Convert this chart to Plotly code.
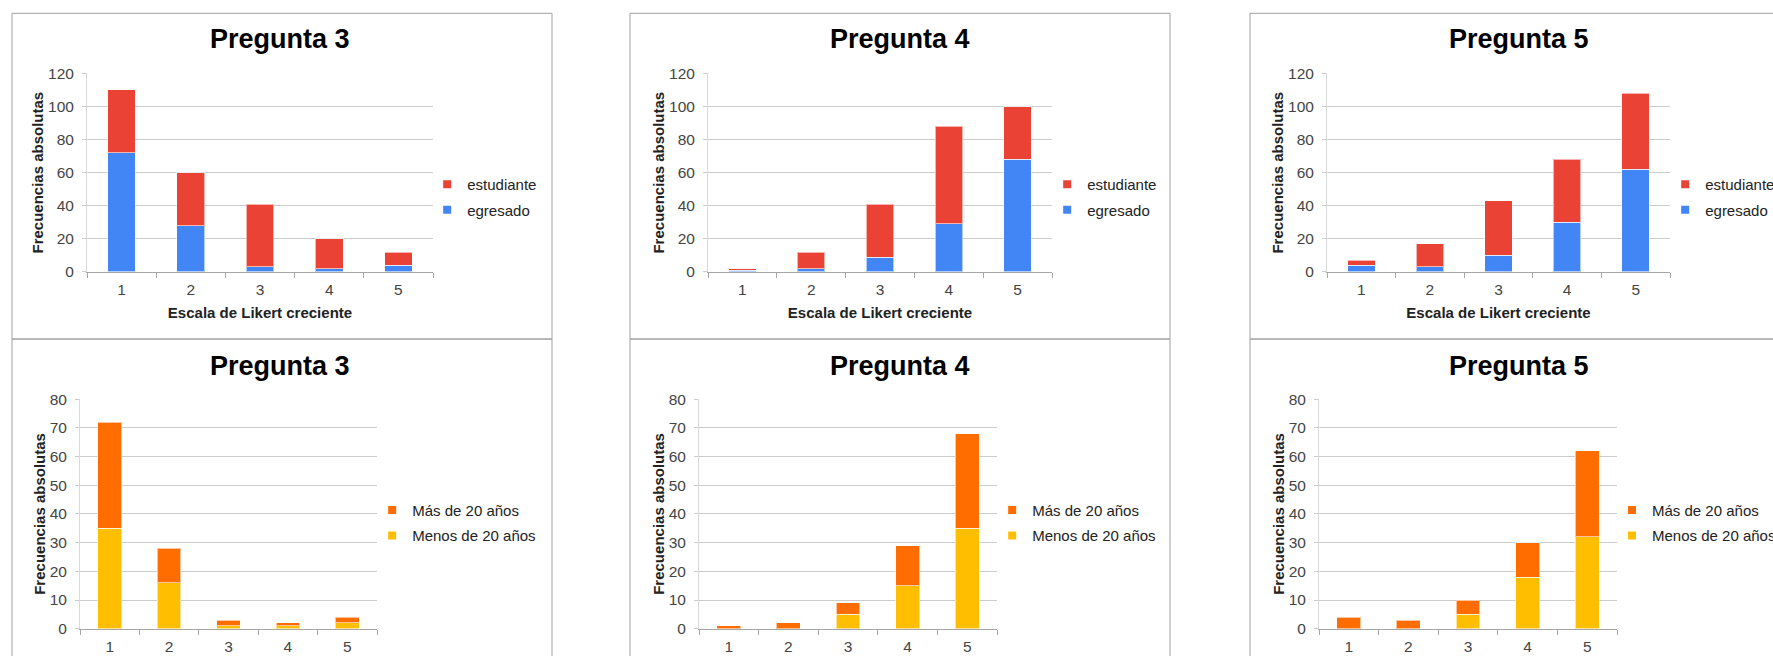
import plotly.graph_objects as go

# Figure size in page pixels (slightly larger than the window so that the
# photographed picture is completely covered)
W, H = 1781, 680

likert = ["1", "2", "3", "4", "5"]

# Top row: egresado / estudiante
p3_egresado = [72, 28, 3, 2, 4]
p3_estudiante = [38, 32, 38, 18, 8]
p4_egresado = [1, 2, 9, 29, 68]
p4_estudiante = [1, 10, 32, 59, 32]
p5_egresado = [4, 3, 10, 30, 62]
p5_estudiante = [3, 14, 33, 38, 46]

# Bottom row: egresados by age
p3_menos = [35, 16, 1, 1, 2]
p3_mas = [37, 12, 2, 1, 2]
p4_menos = [0, 0, 5, 15, 35]
p4_mas = [1, 2, 4, 14, 33]
p5_menos = [0, 0, 5, 18, 32]
p5_mas = [4, 3, 5, 12, 30]

titles = ["Pregunta 3", "Pregunta 4", "Pregunta 5"]
top_names = ["egresado", "estudiante"]
bottom_names = ["Menos de 20 años", "Más de 20 años"]

RED, BLUE = "#EA4335", "#4285F4"
ORANGE, YELLOW = "#FF6D01", "#FFBF00"
FONT = "Liberation Sans, Arial, sans-serif"

# calibration between picture pixels and page pixels
SX, SY, OY = 0.9955, 0.9728, 7.7


def px(x):
    return (x / SX) / W


def py(y):
    return 1 - ((y - OY) / SY) / H


panels = [
    dict(title=titles[0], x=(87, 433), y=(72, 270), ymax=120, dtick=20,
         data=(p3_egresado, p3_estudiante), names=top_names, colors=(BLUE, RED),
         tx=280, ty=38, lx=467, ly=183, xtitle=True,
         box=(12, 12, 552, 337), sides="trbl"),
    dict(title=titles[1], x=(708, 1052), y=(72, 270), ymax=120, dtick=20,
         data=(p4_egresado, p4_estudiante), names=top_names, colors=(BLUE, RED),
         tx=900, ty=38, lx=1087, ly=183, xtitle=True,
         box=(630, 12, 1170, 337), sides="trbl"),
    dict(title=titles[2], x=(1327, 1670), y=(72, 270), ymax=120, dtick=20,
         data=(p5_egresado, p5_estudiante), names=top_names, colors=(BLUE, RED),
         tx=1519, ty=38, lx=1705, ly=183, xtitle=True,
         box=(1250, 12, 1800, 337), sides="tbl"),
    dict(title=titles[0], x=(80, 377), y=(397, 626), ymax=80, dtick=10,
         data=(p3_menos, p3_mas), names=bottom_names, colors=(YELLOW, ORANGE),
         tx=280, ty=364, lx=412, ly=508, xtitle=False,
         box=(12, 337, 552, 700), sides="trl"),
    dict(title=titles[1], x=(699, 997), y=(397, 626), ymax=80, dtick=10,
         data=(p4_menos, p4_mas), names=bottom_names, colors=(YELLOW, ORANGE),
         tx=900, ty=364, lx=1032, ly=508, xtitle=False,
         box=(630, 337, 1170, 700), sides="trl"),
    dict(title=titles[2], x=(1319, 1617), y=(397, 626), ymax=80, dtick=10,
         data=(p5_menos, p5_mas), names=bottom_names, colors=(YELLOW, ORANGE),
         tx=1519, ty=364, lx=1652, ly=508, xtitle=False,
         box=(1250, 337, 1800, 700), sides="tl"),
]

fig = go.Figure()
layout = dict(
    width=W, height=H, autosize=False,
    margin=dict(l=0, r=0, t=0, b=0),
    paper_bgcolor="white", plot_bgcolor="white",
    barmode="stack", bargap=0.6,
    font=dict(family=FONT, size=15, color="#444444"),
    showlegend=True,
)
annotations = []
shapes = []


def clamp(v):
    return min(max(v, 0.0), 1.0)


for i, p in enumerate(panels, start=1):
    sfx = "" if i == 1 else str(i)
    xa, ya = "x" + sfx, "y" + sfx
    leg = "legend" + sfx
    bottom, top = p["data"]
    cb, ct = p["colors"]
    nb, nt = p["names"]
    line = dict(color="rgba(255,255,255,0.6)", width=1)
    fig.add_trace(go.Bar(x=likert, y=bottom, name=nb, marker=dict(color=cb, line=line),
                         xaxis=xa, yaxis=ya, showlegend=False))
    fig.add_trace(go.Bar(x=likert, y=top, name=nt, marker=dict(color=ct, line=line),
                         xaxis=xa, yaxis=ya, showlegend=False))
    # legend entries (small square markers)
    for nm, col, grp in ((nt, ct, "a"), (nb, cb, "b")):
        fig.add_trace(go.Scatter(x=[None], y=[None], mode="markers", name=nm,
                                 marker=dict(symbol="square", size=8, color=col),
                                 xaxis=xa, yaxis=ya, legend=leg, legendgroup=grp + sfx,
                                 showlegend=True))

    layout["xaxis" + sfx] = dict(
        domain=[px(p["x"][0]), px(p["x"][1])], anchor=ya,
        type="category", showgrid=False, showline=True, linecolor="#A6A6A6", linewidth=1,
        ticks="outside", tickson="boundaries", ticklen=5, tickcolor="#A6A6A6",
        ticklabelstandoff=4,
        tickfont=dict(size=15.5, color="#444444"), fixedrange=True,
        title=dict(text="Escala de Likert creciente" if p["xtitle"] else "",
                   font=dict(size=15, color="#222222", weight="bold"), standoff=10),
    )
    layout["yaxis" + sfx] = dict(
        domain=[py(p["y"][1]), py(p["y"][0])], anchor=xa,
        range=[0, p["ymax"]], dtick=p["dtick"], showgrid=True, gridcolor="#CCCCCC",
        gridwidth=1, showline=True, linecolor="#D9D9D9", linewidth=1,
        ticks="outside", ticklen=4, tickcolor="#CCCCCC", ticklabelstandoff=5,
        tickfont=dict(size=15.5, color="#444444"), zeroline=False, fixedrange=True,
        title=dict(text="Frecuencias absolutas",
                   font=dict(size=15, color="#222222", weight="bold"), standoff=0),
    )
    ly_page = (p["ly"] - OY) / SY
    layout[leg] = dict(
        x=px(p["lx"]) - 40 / W, xanchor="left", y=1 - (ly_page - 17) / H, yanchor="top",
        bgcolor="rgba(0,0,0,0)", borderwidth=0, traceorder="grouped",
        tracegroupgap=3, font=dict(size=15, color="#222222", family=FONT),
    )
    annotations.append(dict(
        text=p["title"], xref="paper", yref="paper", x=px(p["tx"]), y=py(p["ty"]),
        xanchor="center", yanchor="middle", showarrow=False,
        font=dict(size=27, color="#000000", family=FONT, weight="bold"),
    ))
    x0, y0, x1, y1 = p["box"]
    segs = {"t": (x0, y0, x1, y0), "r": (x1, y0, x1, y1),
            "b": (x0, y1, x1, y1), "l": (x0, y0, x0, y1)}
    for s in p["sides"]:
        a, b_, c, d = segs[s]
        shapes.append(dict(type="line", xref="paper", yref="paper",
                           x0=clamp(px(a)), y0=clamp(py(b_)),
                           x1=clamp(px(c)), y1=clamp(py(d)),
                           line=dict(color="#A0A0A0", width=1), layer="below"))

layout["annotations"] = annotations
layout["shapes"] = shapes
fig.update_layout(**layout)
fig.write_html(
    "out.html",
    config={"displayModeBar": False},
    post_script=("document.documentElement.style.overflow='hidden';"
                 "document.body.style.margin='0px';"
                 "document.body.style.overflow='hidden';"
                 "var gd=document.getElementById('{plot_id}');"
                 "gd.style.position='fixed';gd.style.top='0px';gd.style.left='0px';"),
)
